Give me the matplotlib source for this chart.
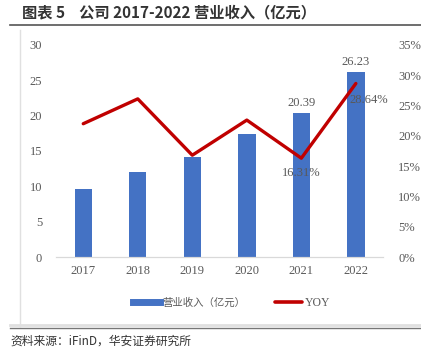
import matplotlib.pyplot as plt
import matplotlib.lines as mlines
import numpy as np

plt.rcParams['font.family'] = ['Noto Sans CJK SC', 'DejaVu Sans']

years = ['2017', '2018', '2019', '2020', '2021', '2022']
revenue = [9.6, 12.0, 14.1, 17.4, 20.39, 26.23]
yoy = [22.0, 26.1, 16.8, 22.6, 16.31, 28.64]

gray = '#595959'
serif = 'Liberation Serif'

fig = plt.figure(figsize=(4.21, 3.54), dpi=100)
ax = fig.add_axes([0.133, 0.274, 0.777, 0.599])
ax2 = ax.twinx()

x = np.arange(len(years))
ax.bar(x, revenue, width=0.32, color='#4472C4', zorder=2)
ax2.plot(x, yoy, color='#C00000', lw=2.4, solid_capstyle='round', zorder=3)

ax.set_xlim(-0.5, 5.5)
ax.set_ylim(0, 30)
ax.set_yticks(range(0, 31, 5))
ax2.set_ylim(0, 35)
ax2.set_yticks(range(0, 36, 5))
ax2.set_yticklabels([f'{v}%' for v in range(0, 36, 5)])
ax.set_xticks(x)
ax.set_xticklabels(years)

for a in (ax, ax2):
    for s in ['top', 'left', 'right']:
        a.spines[s].set_visible(False)
    a.spines['bottom'].set_color('#D9D9D9')
    a.tick_params(length=0, labelsize=9, labelcolor=gray)
    for lab in a.get_xticklabels() + a.get_yticklabels():
        lab.set_fontfamily(serif)
ax.tick_params(axis='y', pad=10)
ax.tick_params(axis='x', pad=6)
ax2.tick_params(axis='y', pad=11)
ax2.set_zorder(ax.get_zorder() + 1)
ax2.patch.set_visible(False)

# data labels
for i in (4, 5):
    ax.text(x[i], revenue[i] + 0.5, f'{revenue[i]:.2f}', ha='center', va='bottom',
            fontsize=9, color=gray, family=serif)
ax2.text(x[4], yoy[4] - 1.5, f'{yoy[4]:.2f}%', ha='center', va='top',
         fontsize=9, color=gray, family=serif)
ax2.text(x[5] - 0.12, yoy[5] - 2.8, f'{yoy[5]:.2f}%', ha='left', va='center',
         fontsize=9, color=gray, family=serif)

# legend
h1 = mlines.Line2D([], [], color='#4472C4', lw=5)
h2 = mlines.Line2D([], [], color='#C00000', lw=2.6, solid_capstyle='round')
leg = fig.legend([h1, h2], ['营业收入（亿元）', 'YOY'], loc='center',
                 bbox_to_anchor=(0.55, 0.145), ncol=2, frameon=False,
                 fontsize=7.5, handlelength=2.6, columnspacing=2.8, handletextpad=0.3)
for t in leg.get_texts():
    t.set_color(gray)
leg.get_texts()[1].set_fontfamily(serif)
leg.get_texts()[1].set_fontsize(8.5)

# title and frame lines
fig.text(0.052, 0.965, '图表 5    公司 2017-2022 营业收入（亿元）', fontsize=11,
         fontweight='bold', color='#333333', va='center')
fig.add_artist(mlines.Line2D([0.024, 1.0], [0.930, 0.930], color='#555555', lw=1.2))
fig.add_artist(mlines.Line2D([0.048, 0.048], [0.08, 0.915], color='#E0E0E0', lw=1))
fig.add_artist(mlines.Line2D([0.024, 1.0], [0.083, 0.083], color='#E0E0E0', lw=2))
fig.add_artist(mlines.Line2D([0.024, 1.0], [0.073, 0.073], color='#777777', lw=1))
fig.text(0.024, 0.037, '资料来源：iFinD，华安证券研究所', fontsize=8.5,
         color='#333333', va='center')

fig.savefig('out.png', dpi=100)
